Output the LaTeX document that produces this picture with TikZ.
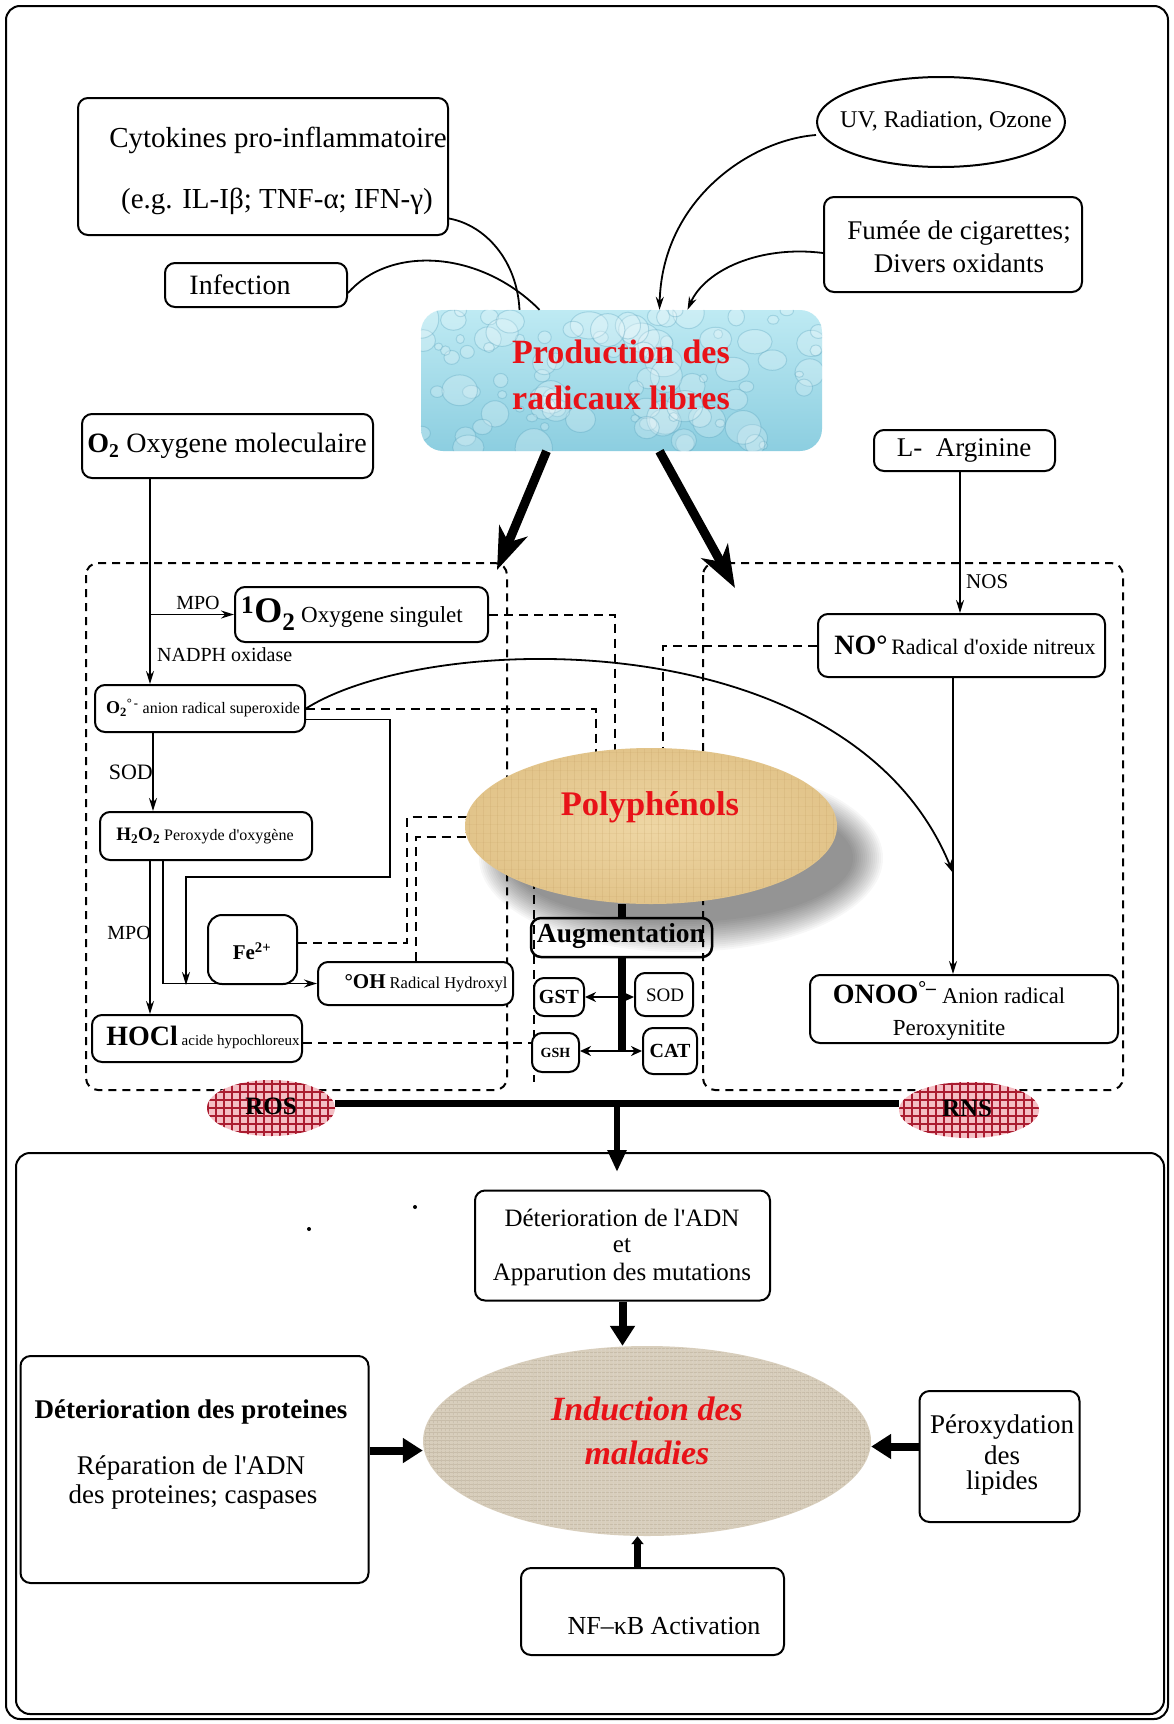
\documentclass[tikz,border=0pt]{standalone}
\usepackage{fontspec}
\setmainfont{Liberation Serif}[Ligatures=TeXOff]
\usetikzlibrary{arrows.meta,shapes.geometric,patterns.meta}
\definecolor{redtxt}{RGB}{232,18,24}
\definecolor{aquaA}{RGB}{190,234,243}
\definecolor{aquaB}{RGB}{140,206,224}
\definecolor{dropEdge}{RGB}{70,150,180}
\definecolor{papyA}{RGB}{238,214,164}
\definecolor{papyB}{RGB}{226,196,138}
\definecolor{papyLine}{RGB}{196,160,100}
\definecolor{linen}{RGB}{216,206,188}
\definecolor{linenLine}{RGB}{192,180,160}
\definecolor{rosbase}{RGB}{244,190,196}
\definecolor{rosgrid}{RGB}{170,28,48}
\newcommand{\myfs}[1]{\fontsize{#1}{#1}\selectfont}
\begin{document}
\begin{tikzpicture}[x=1pt,y=-1pt,
  box/.style={draw, line width=2pt, rounded corners=10pt, inner sep=0pt, fill=white},
  txt/.style={inner sep=0pt, align=center},
  ln/.style={line width=1.8pt},
  arr/.style={line width=1.8pt, -{Stealth[length=13pt,width=8pt]}},
  arrs/.style={line width=1.8pt, -{Stealth[length=11pt,width=10pt]}},
  dsh/.style={line width=2pt, dash pattern=on 9pt off 6pt},
  heavy/.style={line width=9pt, -{Stealth[length=42pt,width=30pt,inset=12pt]}},
  fat/.style={line width=8pt, -{Triangle[length=20pt,width=24pt]}},
  region/.style={line width=2pt, dash pattern=on 8pt off 6pt, rounded corners=12pt},
]
\fill[white] (0,0) rectangle (1173,1724);
\useasboundingbox (0,0) rectangle (1173,1724);
\draw[line width=2pt, rounded corners=14pt] (6,6) rectangle (1168,1719);
\node[draw, line width=2pt, rounded corners=14pt, minimum width=1148pt, minimum height=561pt, inner sep=0pt] (panel) at (590,1433.5) {};

% dashed regions
\draw[region] (86,563) rectangle (507,1090);
\draw[region] (703,563) rectangle (1123,1090);
\draw[dsh] (534,880) -- (534,1082);

% ---------- top sources ----------
\node[box, minimum width=370pt, minimum height=137pt] (cyto) at (263,166.5) {};
\node[txt] (tcyto1) at (278,140) {\myfs{29}Cytokines pro-inflammatoire};
\node[txt] (tcyto2) at (277,201) {\myfs{29}(e.g. IL-Iβ; TNF-α; IFN-γ)};
\node[box, minimum width=182pt, minimum height=44pt] (inf) at (256,285) {};
\node[txt] (tinf) at (240,285) {\myfs{28}Infection};
\node[draw, line width=2pt, ellipse, inner sep=0pt, minimum width=248pt, minimum height=90pt] (uv) at (941,122) {};
\node[txt] (tuv) at (946,121) {\myfs{24}UV, Radiation, Ozone};
\node[box, minimum width=258pt, minimum height=95pt] (fum) at (953,244.5) {};
\node[txt] (tfum1) at (959,233) {\myfs{27}Fumée de cigarettes;};
\node[txt] (tfum2) at (959,263) {\myfs{27}Divers oxidants};

% ---------- production box ----------
\node[inner sep=0pt, minimum width=401pt, minimum height=141pt, rounded corners=22pt, top color=aquaA, bottom color=aquaB] (prod) at (621.5,380.5) {};
\begin{scope}
  \clip[rounded corners=22pt] (prod.south west) rectangle (prod.north east);
  \pgfmathsetseed{11}
  \foreach \i in {1,...,95}{
    \pgfmathsetmacro{\px}{421+rnd*401}
    \pgfmathsetmacro{\py}{310+rnd*141}
    \pgfmathsetmacro{\pr}{4+rnd*15}
    \pgfmathsetmacro{\pq}{\pr*(0.7+0.4*rnd)}
    \fill[white, opacity=0.22] (\px,\py) ellipse [x radius=\pr, y radius=\pq];
    \draw[dropEdge, opacity=0.28, line width=1pt] (\px,\py) ellipse [x radius=\pr, y radius=\pq];
  }
\end{scope}
\node[txt, text=redtxt, font=\bfseries] (tprod1) at (621,352) {\myfs{34}Production des};
\node[txt, text=redtxt, font=\bfseries] (tprod2) at (621,398) {\myfs{34}radicaux libres};

% connectors to production
\draw[ln] ([yshift=-52pt]cyto.east) .. controls (485,225) and (517,260) .. ([xshift=-102pt]prod.north);
\draw[ln] ([yshift=-8pt]inf.east) .. controls (390,245) and (480,250) .. ([xshift=-82pt]prod.north);
\draw[arr] ([yshift=-13pt]uv.west) .. controls (750,140) and (662,200) .. ([xshift=38pt]prod.north);
\draw[arr] ([yshift=-8.5pt]fum.west) .. controls (760,245) and (705,270) .. ([xshift=66pt]prod.north);
\coordinate (lt) at (497,570);
\coordinate (rt) at (735,588);
\draw[heavy] ([xshift=-75pt]prod.south) -- (lt);
\draw[heavy] ([xshift=38pt]prod.south) -- (rt);

% ---------- ROS side boxes ----------
\node[box, minimum width=291pt, minimum height=64pt] (o2) at (227.5,446) {};
\node[txt] (to2) at (227,446) {\myfs{28}\textbf{O\textsubscript{2}} Oxygene moleculaire};
\node[box, minimum width=253pt, minimum height=55pt] (sing) at (361.5,614.5) {};
\node[txt] (tsing) at (352,614) {\myfs{23}{\bfseries\myfs{36}\textsuperscript{1}O\textsubscript{2}} Oxygene singulet};
\node[box, minimum width=210pt, minimum height=47pt] (sup) at (200,708.5) {};
\node[txt] (tsup) at (203,708) {\myfs{16}{\bfseries\myfs{18}O\textsubscript{2}\textsuperscript{°\,-}} anion radical superoxide};
\node[box, minimum width=212pt, minimum height=48pt] (h2o2) at (206,836) {};
\node[txt] (th2o2) at (205,836) {\myfs{16}{\bfseries\myfs{19}H\textsubscript{2}O\textsubscript{2}} Peroxyde d'oxygène};
\node[box, minimum width=89pt, minimum height=69pt, rounded corners=14pt] (fe) at (252.5,949.5) {};
\node[txt] (tfe) at (252,951) {\myfs{21}\textbf{Fe\textsuperscript{2+}}};
\node[box, minimum width=195pt, minimum height=43pt] (oh) at (415.5,983.5) {};
\node[txt] (toh) at (426,983) {\myfs{16.5}{\bfseries\myfs{21}°OH} Radical Hydroxyl};
\node[box, minimum width=210pt, minimum height=47pt] (hocl) at (197,1038.5) {};
\node[txt] (thocl) at (203,1037) {\myfs{15}{\bfseries\myfs{28}HOCl} acide hypochloreux};

\coordinate (xo) at (150,0);
\coordinate (xs) at (153,0);
\coordinate (xm) at (163,0);
\draw[arr] (xo |- o2.south) -- (xo |- sup.north);
\draw[arr] (xo |- sing.west) -- (sing.west);
\node[txt] (tmpo1) at (198,603) {\myfs{20}MPO};
\node[txt, anchor=west] (tnadph) at (157,655) {\myfs{20}NADPH oxidase};
\draw[arr] (xs |- sup.south) -- (xs |- h2o2.north);
\node[txt, anchor=east] (tsod1) at (153,772) {\myfs{22}SOD};
\coordinate (c1) at (390,877);
\coordinate (c2) at (186,985);
\draw[arr] ([yshift=-11pt]sup.east) -| (c1) -| (c2);
\draw[arr] (xo |- h2o2.south) -- (xo |- hocl.north);
\node[txt, anchor=east] (tmpo2) at (151,933) {\myfs{20}MPO};
\draw[arr] (xm |- h2o2.south) |- (oh.west);

% ---------- RNS side boxes ----------
\node[box, minimum width=181pt, minimum height=41pt] (larg) at (964.5,450.5) {};
\node[txt] (tlarg) at (964,450) {\myfs{27}L-\enspace Arginine};
\node[box, minimum width=287pt, minimum height=63pt] (no) at (961.5,645.5) {};
\node[txt] (tno) at (965,645) {\myfs{22}{\bfseries\myfs{28}NO°}\,Radical d'oxide nitreux};
\node[box, minimum width=308pt, minimum height=68pt] (onoo) at (964,1009) {};
\node[txt] (tonoo1) at (949,993) {\myfs{22.5}{\bfseries\myfs{28}ONOO\textsuperscript{°–}} Anion radical};
\node[txt] (tonoo2) at (949,1030) {\myfs{23}Peroxynitite};
\coordinate (xn) at (953,0);
\coordinate (xl) at (960,0);
\draw[arr] (xl |- larg.south) -- (xl |- no.north);
\node[txt, anchor=west] (tnos) at (966,582) {\myfs{21}NOS};
\draw[arr] (xn |- no.south) -- (xn |- onoo.north);

% ---------- dashed links to polyphenols ----------
\draw[dsh] (sing.east) -| (615,775);
\draw[dsh] (sup.east) -| (596,775);
\draw[dsh] (no.west) -| (663,775);
\draw[dsh] ([yshift=7pt]fe.east) -| (407,817) -- (485,817);
\draw[dsh] (oh.north) |- (485,837);
\draw[dsh] ([yshift=-4.5pt]hocl.east) -- ([yshift=-4.5pt]hocl.east -| 532,0);

% superoxide -> peroxynitrite curve
\coordinate (hit) at (953,873);
\draw[arr] (sup.east) .. controls (430,630) and (850,620) .. (hit);

% ---------- polyphenols (soft drop shadow, then ellipse) ----------
\foreach \k in {0,...,15}{
  \pgfmathsetmacro{\sa}{202-2*\k}
  \pgfmathsetmacro{\sb}{94-2*\k}
  \fill[black, opacity=0.032] (681,858) ellipse [x radius=\sa, y radius=\sb];
}
\node[ellipse, inner sep=0pt, minimum width=372pt, minimum height=156pt, inner color=papyA, outer color=papyB] (poly) at (651,826) {};
\fill[pattern={Lines[angle=90,distance=7pt,line width=0.7pt]}, pattern color=papyLine, opacity=0.22] (poly.center) ellipse [x radius=185, y radius=77];
\fill[pattern={Lines[angle=0,distance=9pt,line width=0.6pt]}, pattern color=papyLine, opacity=0.15] (poly.center) ellipse [x radius=185, y radius=77];
\node[txt, text=redtxt, font=\bfseries] (tpoly) at (650,807) {\myfs{34.5}Polyphénols};

% ---------- augmentation ----------
\node[draw, line width=2.5pt, rounded corners=10pt, inner sep=0pt, minimum width=181pt, minimum height=39pt] (aug) at (621.5,937.5) {};
\node[txt] (taug) at (621,936) {\myfs{27.5}\textbf{Augmentation}};
\node[box, minimum width=50pt, minimum height=38pt] (gst) at (559,997) {};
\node[txt] (tgst) at (559,997) {\myfs{20}\textbf{GST}};
\node[box, minimum width=58pt, minimum height=43pt] (sod) at (664,994.5) {};
\node[txt] (tsod2) at (665,995) {\myfs{19}SOD};
\node[box, minimum width=47pt, minimum height=39pt] (gsh) at (555.5,1052.5) {};
\node[txt] (tgsh) at (555.5,1052.5) {\myfs{14}\textbf{GSH}};
\node[box, minimum width=54pt, minimum height=46pt] (cat) at (670,1051) {};
\node[txt] (tcat) at (670,1051) {\myfs{20}\textbf{CAT}};
\draw[line width=8pt] (aug.north |- poly.south) -- (aug.north);
\draw[line width=8pt] (aug.south) -- (aug.south |- cat.west);
\draw[arrs] (aug.south |- gst.east) -- (gst.east);
\draw[arrs] (aug.south |- gst.east) -- (sod.west |- gst.east);
\draw[arrs] (aug.south |- cat.west) -- (gsh.east |- cat.west);
\draw[arrs] (aug.south |- cat.west) -- (cat.west);

% ---------- ROS / RNS ----------
\node[ellipse, inner sep=0pt, minimum width=128pt, minimum height=56pt, fill=rosbase] (ros) at (271,1108) {};
\fill[pattern={Lines[angle=90,distance=8pt,line width=2.6pt]}, pattern color=rosgrid] (ros.center) ellipse [x radius=64, y radius=28];
\fill[pattern={Lines[angle=0,distance=8pt,line width=2.6pt]}, pattern color=rosgrid] (ros.center) ellipse [x radius=64, y radius=28];
\node[txt] (tros) at (271,1106) {\myfs{25}\textbf{ROS}};
\node[ellipse, inner sep=0pt, minimum width=140pt, minimum height=56pt, fill=rosbase] (rns) at (969,1110) {};
\fill[pattern={Lines[angle=90,distance=8pt,line width=2.6pt]}, pattern color=rosgrid] (rns.center) ellipse [x radius=70, y radius=28];
\fill[pattern={Lines[angle=0,distance=8pt,line width=2.6pt]}, pattern color=rosgrid] (rns.center) ellipse [x radius=70, y radius=28];
\node[txt] (trns) at (967,1108) {\myfs{25}\textbf{RNS}};
\draw[line width=7pt] ([yshift=5pt]ros.east) -- ([yshift=7pt]rns.west);
\coordinate (mid) at (617,1103);
\coordinate (pin) at (617,1172);
\draw[line width=6pt, -{Triangle[length=22pt,width=18pt]}] (mid) -- (pin);

% ---------- bottom panel ----------
\fill (415,1207) circle (2);
\fill (309,1229) circle (2);
\node[box, minimum width=295pt, minimum height=110pt] (dna) at (622.5,1245.5) {};
\node[txt] (tdna1) at (622,1218) {\myfs{25}Déterioration de l'ADN};
\node[txt] (tdna2) at (622,1246) {\myfs{25}et};
\node[txt] (tdna3) at (622,1274) {\myfs{25}Apparution des mutations};
\node[ellipse, inner sep=0pt, minimum width=448pt, minimum height=190pt, fill=linen] (ind) at (647,1441) {};
\fill[pattern={Lines[angle=90,distance=4pt,line width=0.8pt]}, pattern color=linenLine] (ind.center) ellipse [x radius=223, y radius=94];
\fill[pattern={Lines[angle=0,distance=4pt,line width=0.8pt]}, pattern color=linenLine] (ind.center) ellipse [x radius=223, y radius=94];
\node[txt, text=redtxt, font=\bfseries\itshape] (tind1) at (647,1409) {\myfs{34}Induction des};
\node[txt, text=redtxt, font=\bfseries\itshape] (tind2) at (647,1453) {\myfs{34}maladies};
\node[box, minimum width=348pt, minimum height=227pt] (prot) at (194.5,1469.5) {};
\node[txt] (tprot1) at (191,1412) {\myfs{27}\textbf{Déterioration des proteines}};
\node[txt] (tprot2) at (191,1468) {\myfs{27}Réparation de l'ADN};
\node[txt] (tprot3) at (193,1497) {\myfs{27}des proteines; caspases};
\node[box, minimum width=160pt, minimum height=131pt] (lip) at (999.5,1456.5) {};
\node[txt] (tlip1) at (1002,1427) {\myfs{27}Péroxydation};
\node[txt] (tlip2) at (1002,1455) {\myfs{27}des};
\node[txt] (tlip3) at (1002,1483) {\myfs{27}lipides};
\node[box, minimum width=263pt, minimum height=87pt] (nf) at (652.5,1611.5) {};
\node[txt] (tnf) at (664,1626) {\myfs{26}NF–κB Activation};

\draw[fat] (dna.south) -- (dna.south |- ind.north);
\draw[fat] ([yshift=19pt]prot.east) -- ([yshift=19pt]prot.east -| ind.west);
\draw[fat] ([yshift=10pt]lip.west) -- ([yshift=10pt]lip.west -| ind.east);
\draw[line width=7pt, -{Triangle[length=8pt,width=12pt]}] ([xshift=-15pt]nf.north) -- ([xshift=-15pt]nf.north |- ind.south);
\end{tikzpicture}
\end{document}
